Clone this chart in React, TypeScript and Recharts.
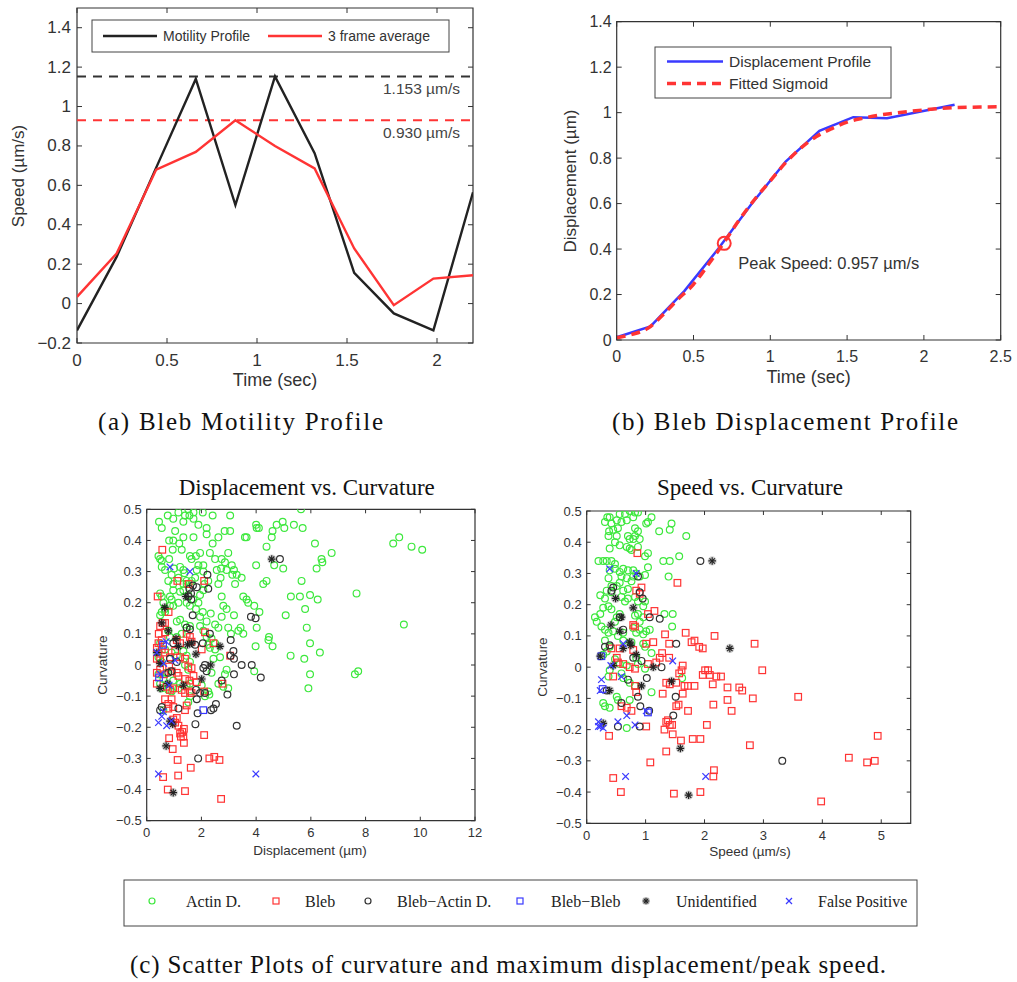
import React from 'react';
import {
  LineChart,
  Line,
  ScatterChart,
  Scatter,
  XAxis,
  YAxis,
  ReferenceLine,
  ReferenceArea,
  ReferenceDot,
} from 'recharts';

const SANS = '"Liberation Sans", Arial, Helvetica, sans-serif';
const SERIF = '"Liberation Serif", "Times New Roman", serif';
const INK = '#333';
const GREEN = '#3ee83e';
const RED = '#ff3434';
const BLUE = '#3a3aff';

// ---- (a) motility profile ----
const frameTimes = [0, 0.22, 0.44, 0.66, 0.88, 1.1, 1.32, 1.54, 1.76, 1.98, 2.2];
const motility = [-0.136, 0.237, 0.69, 1.14, 0.5, 1.153, 0.763, 0.156, -0.05, -0.136, 0.565];
const frameAverage = [0.034, 0.254, 0.68, 0.77, 0.93, 0.8, 0.686, 0.28, -0.008, 0.127, 0.144];
const motilityPeak = 1.153;
const averagePeak = 0.93;
const speedTimeTicks = [0, 0.5, 1, 1.5, 2];
const speedTicks = [-0.2, 0, 0.2, 0.4, 0.6, 0.8, 1, 1.2, 1.4];

// ---- (b) displacement profile ----
const displacement = [0.012, 0.06, 0.215, 0.4, 0.6, 0.785, 0.92, 0.98, 0.975, 1.005, 1.035];
const sigmoidTimes = [0, 0.1, 0.2, 0.3, 0.4, 0.5, 0.6, 0.7, 0.8, 0.9, 1, 1.1, 1.2, 1.3, 1.4, 1.5, 1.6, 1.7, 1.8, 1.9, 2, 2.1, 2.2, 2.3, 2.4, 2.5];
const sigmoidFit = [0.01, 0.025, 0.05, 0.11, 0.18, 0.245, 0.335, 0.43, 0.53, 0.62, 0.7, 0.78, 0.845, 0.895, 0.93, 0.958, 0.975, 0.988, 0.997, 1.005, 1.012, 1.018, 1.022, 1.024, 1.025, 1.026];
const peakPoint = { t: 0.7, d: 0.425 };
const dispTimeTicks = [0, 0.5, 1, 1.5, 2, 2.5];
const dispTicks = [0, 0.2, 0.4, 0.6, 0.8, 1, 1.2, 1.4];

// ---- (c) scatter plots: [x, curvature] ----
const curvTicks = [-0.5, -0.4, -0.3, -0.2, -0.1, 0, 0.1, 0.2, 0.3, 0.4, 0.5];
const displTicks = [0, 2, 4, 6, 8, 10, 12];
const speedScatterTicks = [0, 1, 2, 3, 4, 5];

const dActin = [
  [0.77, 0.48], [0.45, 0.46], [0.55, 0.44], [1.16, 0.49], [0.97, 0.47], [1.4, 0.48], [1.52, 0.5], [1.71, 0.49], [1.56, 0.48], [1.71, 0.47],
  [1.34, 0.46], [1.89, 0.45], [2.05, 0.49], [2.41, 0.48], [2.19, 0.44], [3.05, 0.48], [2.85, 0.43], [3.05, 0.43], [2.19, 0.42], [1.71, 0.41],
  [1.04, 0.43], [0.97, 0.4], [0.82, 0.4], [1.34, 0.41], [1.19, 0.39], [1.28, 0.37], [0.95, 0.37], [2.62, 0.41], [2.41, 0.39], [3.59, 0.41],
  [3.65, 0.41], [4.0, 0.45], [4.02, 0.44], [4.1, 0.44], [4.6, 0.43], [4.75, 0.45], [4.97, 0.46], [5.03, 0.44], [5.38, 0.45], [5.7, 0.44],
  [5.64, 0.5], [4.57, 0.41], [4.38, 0.38], [6.15, 0.39], [6.76, 0.36], [6.39, 0.34], [6.42, 0.33], [6.21, 0.31], [5.66, 0.27], [4.99, 0.31],
  [4.66, 0.32], [4.0, 0.32], [4.26, 0.26], [4.38, 0.27], [9.01, 0.39], [9.23, 0.41], [9.68, 0.38], [10.07, 0.37], [7.67, 0.23], [9.4, 0.13],
  [7.61, -0.03], [7.73, -0.02], [5.27, 0.22], [5.6, 0.22], [5.97, 0.225], [6.25, 0.21], [5.79, 0.18], [5.85, 0.12], [5.97, 0.07], [6.33, 0.04],
  [5.76, 0.02], [5.26, 0.03], [4.6, 0.06], [4.47, 0.09], [4.45, 0.08], [5.08, 0.16], [4.12, 0.17], [4.02, 0.12], [3.98, 0.06], [3.93, -0.02],
  [5.97, -0.03], [5.91, -0.075], [3.43, 0.12], [3.53, 0.1], [3.35, 0.11], [3.19, 0.16], [3.08, 0.1], [2.98, 0.12], [3.53, 0.22], [3.65, 0.21],
  [3.71, 0.2], [3.93, 0.19], [3.29, 0.29], [3.47, 0.28], [3.23, 0.26], [3.11, 0.32], [3.13, 0.29], [3.19, 0.305], [2.92, 0.305], [2.7, 0.28],
  [2.56, 0.305], [2.72, 0.31], [2.98, 0.36], [2.31, 0.36], [2.5, 0.34], [2.74, 0.34], [2.86, 0.33], [2.07, 0.32], [2.07, 0.3], [1.95, 0.36],
  [1.8, 0.35], [1.64, 0.34], [1.58, 0.35], [1.89, 0.32], [1.83, 0.305], [1.77, 0.28], [2.25, 0.27], [2.11, 0.26], [2.62, 0.26], [2.74, 0.22],
  [2.8, 0.19], [2.92, 0.18], [2.74, 0.155], [2.5, 0.13], [2.62, 0.12], [2.34, 0.165], [2.05, 0.17], [2.19, 0.14], [1.95, 0.155], [1.8, 0.18],
  [1.89, 0.2], [1.95, 0.225], [2.07, 0.24], [1.71, 0.21], [1.52, 0.225], [1.46, 0.2], [1.58, 0.19], [1.16, 0.2], [1.22, 0.235], [1.34, 0.24],
  [0.97, 0.24], [0.85, 0.22], [0.91, 0.21], [0.67, 0.18], [0.67, 0.17], [0.49, 0.16], [0.55, 0.17], [0.49, 0.23], [0.55, 0.22], [0.85, 0.19],
  [0.97, 0.19], [0.61, 0.2], [0.43, 0.35], [0.49, 0.34], [0.55, 0.335], [0.55, 0.315], [0.67, 0.305], [0.82, 0.34], [0.91, 0.29], [1.0, 0.31],
  [1.22, 0.315], [1.34, 0.305], [1.38, 0.295], [0.97, 0.26], [1.34, 0.26], [1.46, 0.26], [0.79, 0.27], [1.16, 0.28], [1.46, 0.27], [1.64, 0.27],
  [1.1, 0.14], [1.22, 0.145], [1.4, 0.13], [1.46, 0.12], [1.58, 0.125], [0.79, 0.11], [0.85, 0.09], [1.1, 0.09], [1.28, 0.1], [1.95, 0.125],
  [2.07, 0.11], [2.19, 0.09], [2.37, 0.085], [2.5, 0.07], [2.25, 0.065], [2.31, 0.055], [2.5, 0.05], [2.68, 0.025], [2.92, -0.015], [2.86, -0.03],
  [2.98, -0.075], [2.8, -0.07], [2.62, -0.06], [2.44, 0.02], [2.37, -0.025], [2.25, -0.085], [2.13, -0.1], [2.01, -0.065], [1.58, -0.06], [1.46, -0.065],
  [1.22, -0.06], [1.16, -0.075], [0.97, -0.05], [0.73, -0.025], [0.61, -0.045], [0.43, -0.03], [0.49, -0.06], [0.55, -0.075], [0.79, -0.08], [0.91, -0.085],
  [0.43, 0.025], [0.55, 0.01], [0.49, 0.07], [0.67, 0.05], [0.91, 0.04], [1.1, 0.03], [1.34, 0.045], [1.46, 0.03], [1.4, 0.0], [1.52, -0.015],
  [1.58, 0.01], [1.52, -0.12], [1.58, -0.1], [0.61, -0.145], [2.29, -0.095],
];
const dBleb = [
  [0.57, 0.37], [0.4, 0.22], [1.12, 0.27], [2.1, 0.27], [1.53, 0.26], [0.8, 0.17], [0.49, 0.125], [0.58, 0.135], [0.67, 0.135], [0.44, 0.1],
  [0.67, 0.105], [1.46, 0.1], [0.43, 0.07], [0.55, 0.08], [1.1, 0.08], [1.22, 0.07], [1.58, 0.09], [1.64, 0.075], [2.13, 0.105], [2.01, 0.05],
  [2.44, 0.07], [0.37, 0.055], [0.55, 0.05], [0.67, 0.04], [0.85, 0.025], [1.04, 0.045], [0.37, 0.02], [0.49, 0.015], [1.22, 0.025], [1.4, 0.02],
  [1.52, -0.005], [1.64, -0.01], [0.37, -0.025], [0.49, -0.015], [0.63, -0.03], [0.82, -0.005], [0.91, -0.02], [1.1, -0.025], [1.16, -0.035], [1.4, -0.045],
  [1.56, -0.05], [1.71, -0.035], [1.83, -0.055], [0.73, -0.07], [0.85, -0.08], [0.97, -0.075], [0.37, -0.06], [1.28, -0.08], [1.4, -0.09], [1.58, -0.085],
  [1.64, -0.09], [0.67, -0.11], [0.79, -0.125], [0.91, -0.11], [0.79, -0.14], [0.97, -0.135], [1.4, -0.145], [1.46, -0.13], [1.04, -0.185], [1.16, -0.195],
  [1.1, -0.17], [0.97, -0.175], [1.36, -0.205], [1.22, -0.22], [1.34, -0.23], [1.3, -0.215], [1.25, -0.23], [1.36, -0.25], [0.82, -0.235], [0.95, -0.27],
  [1.13, -0.305], [1.61, -0.33], [1.15, -0.355], [0.6, -0.36], [0.77, -0.4], [1.4, -0.405], [2.1, -0.225], [2.29, -0.3], [2.47, -0.295], [2.66, -0.305],
  [2.72, -0.43], [2.1, -0.085], [2.77, -0.06], [3.05, 0.03],
];
const dBlebActin = [
  [2.22, 0.29], [2.25, 0.245], [1.83, 0.25], [1.69, 0.255], [1.56, 0.245], [1.62, 0.23], [1.63, 0.21], [1.68, 0.16], [1.53, 0.22], [4.87, 0.34],
  [3.81, 0.155], [3.98, 0.15], [3.07, 0.08], [3.17, 0.045], [3.19, 0.02], [3.07, 0.03], [3.47, 0.0], [3.84, 0.0], [4.17, -0.04], [3.19, -0.03],
  [2.74, -0.05], [2.95, -0.095], [3.29, -0.195], [2.53, -0.125], [2.44, -0.14], [2.35, -0.145], [2.13, -0.09], [1.83, -0.11], [1.86, -0.155], [1.78, -0.19],
  [1.88, -0.3], [2.05, 0.07], [2.07, -0.01], [2.19, -0.02], [2.13, 0.0], [1.77, 0.065], [1.16, -0.14], [0.91, -0.02], [0.79, -0.025], [0.85, 0.02],
  [1.1, 0.01], [0.97, 0.07], [1.46, 0.12], [1.58, 0.115], [0.55, -0.135], [0.49, -0.145], [2.31, 0.1], [1.95, -0.09], [1.8, -0.08],
];
const dBlebBleb = [[2.07, -0.145], [0.6, 0.065], [0.45, -0.04]];
const dUnknown = [
  [4.57, 0.34], [1.43, 0.22], [0.66, 0.185], [0.55, 0.135], [0.79, 0.11], [1.07, 0.085], [1.16, 0.06], [1.49, 0.065], [1.8, 0.035], [2.68, 0.06],
  [2.34, 0.0], [2.01, -0.045], [0.37, 0.04], [0.49, 0.005], [0.49, -0.075], [0.77, -0.06], [1.34, -0.065], [0.85, -0.18], [0.71, -0.26], [0.97, -0.41],
  [1.64, 0.07], [0.95, -0.19],
];
const dFalse = [
  [0.85, 0.315], [1.58, 0.3], [0.43, -0.35], [3.99, -0.35], [0.43, -0.185], [0.55, -0.165], [0.61, -0.15], [0.73, -0.195], [0.71, 0.075], [0.37, 0.04],
  [1.04, 0.015], [0.51, -0.03], [0.82, -0.065], [0.62, 0.005], [0.9, -0.18],
];

const sActin = [
  [0.35, 0.48], [0.39, 0.48], [0.51, 0.47], [0.56, 0.49], [0.65, 0.49], [0.73, 0.5], [0.82, 0.495], [0.87, 0.495], [0.31, 0.465], [0.42, 0.46],
  [0.59, 0.465], [0.68, 0.47], [0.79, 0.48], [1.01, 0.46], [1.1, 0.48], [1.04, 0.465], [1.23, 0.435], [1.44, 0.46], [1.41, 0.44], [1.69, 0.42],
  [0.38, 0.435], [0.45, 0.44], [0.53, 0.445], [0.37, 0.42], [0.51, 0.42], [0.82, 0.445], [0.87, 0.435], [0.82, 0.42], [0.7, 0.42], [0.73, 0.41],
  [0.79, 0.41], [0.48, 0.4], [0.56, 0.39], [0.39, 0.38], [0.68, 0.385], [0.73, 0.38], [0.76, 0.375], [0.9, 0.41], [0.87, 0.385], [0.99, 0.355],
  [1.04, 0.365], [1.04, 0.32], [1.3, 0.34], [1.41, 0.34], [1.57, 0.355], [1.39, 0.29], [0.2, 0.34], [0.28, 0.34], [0.34, 0.34], [0.42, 0.34],
  [0.48, 0.33], [0.39, 0.31], [0.48, 0.315], [0.56, 0.305], [0.62, 0.315], [0.7, 0.31], [0.79, 0.31], [0.84, 0.3], [0.9, 0.29], [0.99, 0.295],
  [0.59, 0.29], [0.68, 0.285], [0.76, 0.275], [0.79, 0.29], [0.37, 0.285], [0.42, 0.26], [0.51, 0.26], [0.56, 0.27], [0.62, 0.245], [0.7, 0.25],
  [0.23, 0.23], [0.31, 0.22], [0.34, 0.245], [0.42, 0.24], [0.59, 0.225], [0.65, 0.21], [0.7, 0.22], [0.82, 0.225], [0.87, 0.21], [0.96, 0.195],
  [0.99, 0.21], [0.14, 0.16], [0.17, 0.145], [0.23, 0.17], [0.28, 0.19], [0.37, 0.195], [0.42, 0.185], [0.51, 0.16], [0.56, 0.17], [0.48, 0.145],
  [0.82, 0.165], [0.87, 0.17], [0.9, 0.145], [0.96, 0.16], [1.32, 0.17], [1.46, 0.17], [1.45, 0.13], [0.25, 0.13], [0.31, 0.12], [0.37, 0.11],
  [0.45, 0.115], [0.53, 0.1], [0.62, 0.11], [0.79, 0.125], [0.84, 0.11], [0.9, 0.12], [0.96, 0.105], [1.01, 0.115], [1.07, 0.12], [0.31, 0.085],
  [0.39, 0.065], [0.34, 0.05], [0.28, 0.04], [0.96, 0.075], [0.99, 0.065], [1.1, 0.045], [0.62, 0.085], [0.76, 0.08], [0.48, 0.025], [0.56, 0.01],
  [0.68, 0.005], [0.84, 0.03], [0.87, 0.01], [0.39, -0.01], [0.37, -0.03], [0.59, -0.02], [0.62, -0.035], [0.73, -0.05], [0.82, -0.06], [1.1, -0.08],
  [0.28, -0.115], [0.31, -0.125], [0.39, -0.13], [0.51, -0.095], [0.53, -0.105], [0.73, -0.105], [0.68, -0.195], [1.62, -0.035], [0.99, -0.005],
];
const sBleb = [
  [0.86, 0.365], [1.54, 0.27], [0.93, 0.255], [0.84, 0.245], [0.9, 0.235], [1.15, 0.18], [1.04, 0.17], [0.79, 0.135], [0.82, 0.13], [1.33, 0.105],
  [1.68, 0.11], [2.17, 0.1], [2.85, 0.075], [1.78, 0.08], [1.83, 0.085], [1.91, 0.065], [1.97, 0.06], [1.4, 0.075], [1.13, 0.08], [1.01, 0.075],
  [1.28, 0.045], [1.4, 0.03], [1.63, 0.005], [1.57, -0.02], [1.61, -0.01], [1.97, -0.025], [2.01, -0.01], [2.06, -0.01], [2.09, -0.025], [2.2, -0.03],
  [2.28, -0.03], [2.98, -0.01], [2.14, -0.055], [2.39, -0.065], [2.59, -0.065], [2.64, -0.075], [2.82, -0.1], [3.59, -0.095], [2.39, -0.105], [2.15, -0.12],
  [2.46, -0.14], [1.35, -0.05], [1.41, -0.055], [1.52, -0.05], [1.66, -0.06], [1.72, -0.06], [1.83, -0.06], [1.63, -0.085], [1.52, -0.125], [1.56, -0.12],
  [1.72, -0.14], [1.29, -0.085], [1.35, -0.175], [1.38, -0.17], [1.41, -0.185], [1.32, -0.2], [1.45, -0.185], [1.46, -0.215], [1.6, -0.235], [1.8, -0.23],
  [1.93, -0.23], [2.04, -0.185], [1.01, -0.19], [0.38, -0.22], [1.08, -0.305], [1.35, -0.27], [2.16, -0.33], [2.15, -0.35], [2.77, -0.25], [0.45, -0.355],
  [0.58, -0.4], [1.48, -0.405], [1.93, -0.4], [3.98, -0.43], [4.45, -0.29], [4.76, -0.305], [4.89, -0.3], [4.94, -0.22], [0.59, -0.125], [0.68, -0.13],
  [0.76, -0.14], [0.82, -0.06], [0.84, -0.08], [0.62, 0.01], [0.73, 0.0], [0.82, -0.005], [0.51, 0.03], [0.53, 0.015], [1.24, 0.03], [1.18, 0.015],
  [1.04, 0.01], [0.56, 0.06], [0.79, 0.055], [0.45, -0.03], [0.42, 0.06],
];
const sBlebActin = [
  [1.93, 0.34], [1.24, 0.155], [1.07, 0.16], [1.52, 0.075], [1.27, 0.0], [1.02, -0.035], [1.51, -0.095], [1.47, -0.155], [1.06, -0.14], [0.91, -0.125],
  [0.87, -0.095], [0.9, -0.19], [0.53, -0.19], [0.59, -0.115], [3.32, -0.3], [0.31, 0.065], [0.39, 0.07], [0.45, 0.255], [0.42, 0.245], [0.9, 0.24],
  [0.87, 0.29], [0.56, 0.16], [0.79, 0.03], [0.93, 0.02], [0.7, -0.04], [0.34, -0.075], [0.95, 0.22], [0.62, 0.12],
];
const sBlebBleb = [[1.04, -0.145], [0.25, 0.035], [0.27, -0.07]];
const sUnknown = [
  [2.13, 0.34], [2.43, 0.06], [1.59, -0.26], [1.73, -0.41], [0.49, 0.22], [0.41, 0.135], [0.79, 0.19], [0.56, 0.115], [0.73, 0.08], [0.23, 0.035],
  [0.45, 0.005], [0.39, -0.075], [0.93, -0.06], [1.13, 0.0], [1.44, -0.045], [0.62, 0.06], [0.28, -0.18], [0.84, 0.04], [0.59, 0.16], [0.75, 0.07],
];
const sFalse = [
  [0.39, 0.315], [0.84, 0.3], [1.46, 0.02], [0.25, -0.04], [0.23, -0.075], [0.2, -0.175], [0.23, -0.19], [0.28, -0.195], [0.2, -0.19], [0.53, -0.175],
  [0.68, -0.155], [0.82, -0.185], [0.66, -0.35], [2.02, -0.35], [1.01, -0.14], [0.62, 0.075], [0.41, 0.005], [0.59, -0.03],
];

const legendNames = ['Actin D.', 'Bleb', 'Bleb\u2212Actin D.', 'Bleb\u2212Bleb', 'Unidentified', 'False Positive'];

// ---- helpers ----
const speedRows = frameTimes.map((t, i) => ({ t, motility: motility[i], avg: frameAverage[i] }));
const dispRows = frameTimes.map((t, i) => ({ t, d: displacement[i] }));
const sigmoidRows = sigmoidTimes.map((t, i) => ({ t, d: sigmoidFit[i] }));
const pts = (a: number[][]) => a.map(([x, y]) => ({ x, y }));

const fmt = (v: number) => (v < 0 ? '\u2212' + String(Math.abs(v)) : String(v));

type Frame = { left: number; right: number; top: number; bottom: number };

const xTick = (f: Frame, len: number, fs: number, gap: number) => (p: any) => (
  <g>
    <line x1={p.x} x2={p.x} y1={f.bottom} y2={f.bottom - len} stroke={INK} />
    <line x1={p.x} x2={p.x} y1={f.top} y2={f.top + len} stroke={INK} />
    <text x={p.x} y={f.bottom + gap} textAnchor="middle" dominantBaseline="central" fontSize={fs} fontFamily={SANS} fill={INK}>
      {fmt(p.payload.value)}
    </text>
  </g>
);

const yTick = (f: Frame, len: number, fs: number, gap: number) => (p: any) => (
  <g>
    <line x1={f.left} x2={f.left + len} y1={p.y} y2={p.y} stroke={INK} />
    <line x1={f.right} x2={f.right - len} y1={p.y} y2={p.y} stroke={INK} />
    <text x={f.left - gap} y={p.y} textAnchor="end" dominantBaseline="central" fontSize={fs} fontFamily={SANS} fill={INK}>
      {fmt(p.payload.value)}
    </text>
  </g>
);

const marginFor = (w: number, h: number, f: Frame, yw: number, xh: number) => ({
  top: f.top,
  left: f.left - yw,
  right: w - f.right,
  bottom: h - f.bottom - xh,
});

const PeakLabel = (props: any) => {
  const vb = props.viewBox || { x: 0, y: 0, width: 0, height: 0 };
  const cx = vb.x + vb.width / 2;
  const cy = vb.y + vb.height / 2;
  return (
    <text x={cx + 14} y={cy + 26} fontSize={16.5} fontFamily={SANS} fill={INK}>
      Peak Speed: 0.957 µm/s
    </text>
  );
};

const PeakLineLabel = (props: any) => {
  const vb = props.viewBox || { x: 0, y: 0, width: 0, height: 0 };
  return (
    <text x={vb.x + vb.width - 13} y={vb.y + 18} textAnchor="end" fontSize={15.5} fontFamily={SANS} fill="#444">
      {props.text}
    </text>
  );
};

// markers
const ring = (color: string, r = 3.4) => (p: any) => (
  <circle cx={p.cx} cy={p.cy} r={r} fill="none" stroke={color} strokeWidth={1.2} />
);
const box = (color: string, s = 3.3) => (p: any) => (
  <rect x={p.cx - s} y={p.cy - s} width={2 * s} height={2 * s} fill="none" stroke={color} strokeWidth={1.2} />
);
const star = (s = 3.8) => (p: any) => (
  <g stroke="#222" strokeWidth={1.2}>
    <circle cx={p.cx} cy={p.cy} r={s + 0.8} fill="rgba(0,0,0,0.18)" stroke="none" />
    <line x1={p.cx - s} x2={p.cx + s} y1={p.cy} y2={p.cy} />
    <line x1={p.cx} x2={p.cx} y1={p.cy - s} y2={p.cy + s} />
    <line x1={p.cx - s * 0.7} x2={p.cx + s * 0.7} y1={p.cy - s * 0.7} y2={p.cy + s * 0.7} />
    <line x1={p.cx - s * 0.7} x2={p.cx + s * 0.7} y1={p.cy + s * 0.7} y2={p.cy - s * 0.7} />
  </g>
);
const cross = (s = 3.3) => (p: any) => (
  <g stroke={BLUE} strokeWidth={1.2}>
    <line x1={p.cx - s} x2={p.cx + s} y1={p.cy - s} y2={p.cy + s} />
    <line x1={p.cx - s} x2={p.cx + s} y1={p.cy + s} y2={p.cy - s} />
  </g>
);

// ---- chart frames (chart-local pixel coordinates) ----
const A = { w: 500, h: 400, f: { left: 77, right: 473, top: 8, bottom: 343 } };
const B = { w: 517, h: 400, f: { left: 116.7, right: 500.7, top: 21.7, bottom: 340 } };
const C1 = { w: 400, h: 410, f: { left: 56.7, right: 385, top: 49.3, bottom: 360.7 } };
const C2 = { w: 420, h: 410, f: { left: 66.7, right: 390.7, top: 51, bottom: 363.3 } };

function CurvatureScatter(props: {
  cfg: typeof C1;
  xDomain: [number, number];
  xTicks: number[];
  sets: number[][][];
}) {
  const { cfg, xDomain, xTicks, sets } = props;
  const f = cfg.f;
  const shapes = [ring(GREEN), box(RED), ring(INK), box(BLUE), star(), cross()];
  return (
    <ScatterChart width={cfg.w} height={cfg.h} margin={marginFor(cfg.w, cfg.h, f, 40, 30)}>
      <XAxis type="number" dataKey="x" domain={xDomain} ticks={xTicks} interval={0} allowDataOverflow height={30}
        axisLine={false} tickLine={false} tick={xTick(f, 4, 13, 12)} />
      <YAxis type="number" dataKey="y" domain={[-0.5, 0.5]} ticks={curvTicks} interval={0} allowDataOverflow width={40}
        axisLine={false} tickLine={false} tick={yTick(f, 4, 13, 5)} />
      <ReferenceArea x1={xDomain[0]} x2={xDomain[1]} y1={-0.5} y2={0.5} fill="none" fillOpacity={0} stroke={INK} strokeWidth={1.2} ifOverflow="visible" />
      {sets.map((s, i) => (
        <Scatter key={i} data={pts(s)} shape={shapes[i]} isAnimationActive={false} />
      ))}
    </ScatterChart>
  );
}

export default function App() {
  const legendX = [152, 276, 368, 520, 646, 789];
  const legendTextX = [186, 305, 397, 551, 676, 818];
  const legendMarks = [ring(GREEN, 3), box(RED, 3), ring(INK, 3), box(BLUE, 3), star(3.3), cross(3)];
  return (
    <div style={{ position: 'absolute', left: 0, top: 0, width: 1017, height: 982, background: '#fff', overflow: 'hidden' }}>
      {/* (a) */}
      <div style={{ position: 'absolute', left: 0, top: 0 }}>
        <LineChart width={A.w} height={A.h} data={speedRows} margin={marginFor(A.w, A.h, A.f, 60, 40)}>
          <XAxis type="number" dataKey="t" domain={[0, 2.2]} ticks={speedTimeTicks} interval={0} allowDataOverflow height={40}
            axisLine={false} tickLine={false} tick={xTick(A.f, 5, 17, 17)} />
          <YAxis type="number" domain={[-0.2, 1.5]} ticks={speedTicks} interval={0} allowDataOverflow width={60}
            axisLine={false} tickLine={false} tick={yTick(A.f, 5, 17, 6)} />
          <ReferenceArea x1={0} x2={2.2} y1={-0.2} y2={1.5} fill="none" fillOpacity={0} stroke={INK} strokeWidth={1.2} ifOverflow="visible" />
          <ReferenceLine y={motilityPeak} stroke="#333" strokeWidth={2} strokeDasharray="9 7" label={<PeakLineLabel text="1.153 µm/s" />} />
          <ReferenceLine y={averagePeak} stroke={RED} strokeWidth={2} strokeDasharray="9 7" label={<PeakLineLabel text="0.930 µm/s" />} />
          <Line type="linear" dataKey="motility" stroke="#222" strokeWidth={2.4} dot={false} isAnimationActive={false} />
          <Line type="linear" dataKey="avg" stroke={RED} strokeWidth={2.4} dot={false} isAnimationActive={false} />
        </LineChart>
      </div>

      {/* (b) */}
      <div style={{ position: 'absolute', left: 500, top: 0 }}>
        <LineChart width={B.w} height={B.h} margin={marginFor(B.w, B.h, B.f, 60, 40)}>
          <XAxis type="number" dataKey="t" domain={[0, 2.5]} ticks={dispTimeTicks} interval={0} allowDataOverflow height={40}
            axisLine={false} tickLine={false} tick={xTick(B.f, 5, 16, 16)} />
          <YAxis type="number" domain={[0, 1.4]} ticks={dispTicks} interval={0} allowDataOverflow width={60}
            axisLine={false} tickLine={false} tick={yTick(B.f, 5, 16, 5)} />
          <ReferenceArea x1={0} x2={2.5} y1={0} y2={1.4} fill="none" fillOpacity={0} stroke={INK} strokeWidth={1.2} ifOverflow="visible" />
          <Line data={dispRows} type="linear" dataKey="d" stroke={BLUE} strokeWidth={2.5} dot={false} isAnimationActive={false} />
          <Line data={sigmoidRows} type="monotone" dataKey="d" stroke={RED} strokeWidth={3.5} strokeDasharray="9 6" dot={false} isAnimationActive={false} />
          <ReferenceDot x={peakPoint.t} y={peakPoint.d} r={6.5} fill="none" stroke={RED} strokeWidth={2} label={<PeakLabel />} />
        </LineChart>
      </div>

      {/* (c) */}
      <div style={{ position: 'absolute', left: 90, top: 460 }}>
        <CurvatureScatter cfg={C1} xDomain={[0, 12]} xTicks={displTicks}
          sets={[dActin, dBleb, dBlebActin, dBlebBleb, dUnknown, dFalse]} />
      </div>
      <div style={{ position: 'absolute', left: 520, top: 460 }}>
        <CurvatureScatter cfg={C2} xDomain={[0, 5.5]} xTicks={speedScatterTicks}
          sets={[sActin, sBleb, sBlebActin, sBlebBleb, sUnknown, sFalse]} />
      </div>

      {/* titles, legends, captions */}
      <svg width={1017} height={982} style={{ position: 'absolute', left: 0, top: 0, pointerEvents: 'none' }}>
        <g fontFamily={SANS} fill={INK}>
          <text transform="translate(24,176) rotate(-90)" textAnchor="middle" fontSize={17}>Speed (µm/s)</text>
          <text x={275} y={386} textAnchor="middle" fontSize={18}>Time (sec)</text>
          <text transform="translate(576,181) rotate(-90)" textAnchor="middle" fontSize={17}>Displacement (µm)</text>
          <text x={808.7} y={383} textAnchor="middle" fontSize={18}>Time (sec)</text>
          <text transform="translate(107,665) rotate(-90)" textAnchor="middle" fontSize={13.5}>Curvature</text>
          <text x={310} y={855} textAnchor="middle" fontSize={13.5}>Displacement (µm)</text>
          <text transform="translate(546.5,667) rotate(-90)" textAnchor="middle" fontSize={13.5}>Curvature</text>
          <text x={750} y={856} textAnchor="middle" fontSize={13.5}>Speed (µm/s)</text>
        </g>

        {/* legend (a) */}
        <rect x={92} y={20} width={357} height={32} fill="#fff" stroke="#444" />
        <line x1={103} x2={157} y1={36} y2={36} stroke="#222" strokeWidth={2.5} />
        <text x={163} y={41} fontSize={14} fontFamily={SANS} fill={INK}>Motility Profile</text>
        <line x1={268} x2={322} y1={36} y2={36} stroke={RED} strokeWidth={2.5} />
        <text x={328} y={41} fontSize={14} fontFamily={SANS} fill={INK}>3 frame average</text>

        {/* legend (b) */}
        <rect x={655} y={47} width={236} height={51} fill="#fff" stroke="#444" />
        <line x1={667} x2={723} y1={61.5} y2={61.5} stroke={BLUE} strokeWidth={2.5} />
        <text x={729} y={67} fontSize={15.5} fontFamily={SANS} fill={INK}>Displacement Profile</text>
        <line x1={667} x2={723} y1={83.5} y2={83.5} stroke={RED} strokeWidth={3.5} strokeDasharray="9 6" />
        <text x={729} y={89} fontSize={15.5} fontFamily={SANS} fill={INK}>Fitted Sigmoid</text>

        {/* scatter titles */}
        <text x={306.7} y={495} textAnchor="middle" fontSize={23} fontFamily={SERIF} fill="#111">Displacement vs. Curvature</text>
        <text x={750} y={495} textAnchor="middle" fontSize={23} fontFamily={SERIF} fill="#111">Speed vs. Curvature</text>

        {/* scatter legend */}
        <rect x={124} y={880} width={793} height={46} fill="#fff" stroke="#444" />
        {legendNames.map((n, i) => (
          <g key={n}>
            {legendMarks[i]({ cx: legendX[i], cy: 901 })}
            <text x={legendTextX[i]} y={907} fontSize={16} fontFamily={SERIF} fill="#222">{n}</text>
          </g>
        ))}

        {/* captions */}
        <g fontFamily={SERIF} fontSize={25} fill="#111">
          <text x={98} y={430} textLength={285} lengthAdjust="spacing">(a) Bleb Motility Profile</text>
          <text x={612} y={430} textLength={346} lengthAdjust="spacing">(b) Bleb Displacement Profile</text>
          <text x={130} y={973} textLength={756} lengthAdjust="spacing">(c) Scatter Plots of curvature and maximum displacement/peak speed.</text>
        </g>
      </svg>
    </div>
  );
}
